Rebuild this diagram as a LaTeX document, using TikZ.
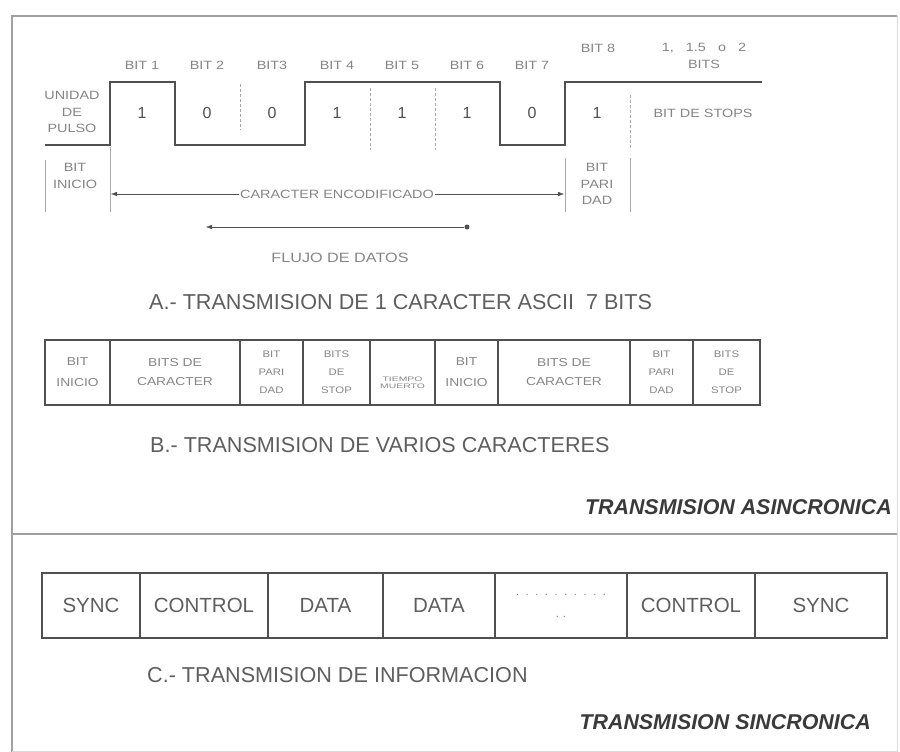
\documentclass[tikz,border=0pt]{standalone}
\usepackage{fontspec}
\setmainfont{Liberation Sans}
\newfontfamily\widesans[FakeStretch=1.2]{Liberation Sans}
\usetikzlibrary{arrows.meta,positioning}
\definecolor{lineG}{HTML}{505050}
\definecolor{txtG}{HTML}{858585}
\definecolor{headG}{HTML}{5E5E5E}
\definecolor{titleG}{HTML}{3A3A3A}
\definecolor{frameG}{HTML}{A0A0A0}

\begin{document}
\begin{tikzpicture}[x=1pt,y=-1pt,
  lbl/.style={text=txtG,font=\widesans\fontsize{12}{16.5}\selectfont,align=center,inner sep=1pt},
  bitval/.style={text=lineG,font=\fontsize{16}{18}\selectfont,inner sep=1pt},
  hd/.style={text=headG,font=\fontsize{21.6}{24}\selectfont,inner sep=0pt,anchor=west},
  ttl/.style={text=titleG,font=\fontsize{21.4}{24}\bfseries\itshape\selectfont,inner sep=0pt,anchor=east},
  cellB/.style={draw=lineG,line width=1.1pt,text=txtG,font=\widesans\fontsize{11.5}{21}\selectfont,align=center,minimum height=65pt,inner sep=0pt,outer sep=0pt},
  narrow/.style={cellB,font=\widesans\fontsize{9.5}{18}\selectfont},
  cellC/.style={draw=lineG,line width=1.1pt,text=headG,font=\fontsize{20.5}{24}\selectfont,align=center,minimum height=65pt,inner sep=0pt,outer sep=0pt},
  guide/.style={draw=txtG!70,thin,densely dashed},
  boxline/.style={draw=txtG!70,thin},
  flow/.style={-{Latex[length=6pt,width=4.5pt]},lineG,thin}]
\useasboundingbox (0,0) rectangle (900,752);
% frame and separator
\draw[frameG,line width=1.4pt] (12,752) -- (12,16) -- (897,16);
\draw[frameG!40,line width=1pt] (897,16) -- (897,751) -- (12,751);
\draw[frameG,line width=1.4pt] (12,534) -- (897,534);

% A: one character
\node[lbl] (b1) at (142,65) {BIT 1};
\node[lbl] (b2) at (207,65) {BIT 2};
\node[lbl] (b3) at (272,65) {BIT3};
\node[lbl] (b4) at (337,65) {BIT 4};
\node[lbl] (b5) at (402,65) {BIT 5};
\node[lbl] (b6) at (467,65) {BIT 6};
\node[lbl] (b7) at (532,65) {BIT 7};
\node[lbl] (b8) at (598,48) {BIT 8};
\node[lbl] (nstop) at (704,56) {1,\ \ \ 1.5\ \ \ o\ \ \ 2\\BITS};
\node[lbl] (unit) at (72,112) {UNIDAD\\DE\\PULSO};
\node[lbl] (stops) at (703,113) {BIT DE STOPS};
\draw[lineG,line width=1.2pt] (45,145) -- (110,145) -- (110,82) -- (175,82) -- (175,145)
  -- (305,145) -- (305,82) -- (500,82) -- (500,145) -- (565,145) -- (565,82) -- (762,82);
\node[bitval] (v1) at (142,113) {1};
\node[bitval] (v2) at (207,113) {0};
\node[bitval] (v3) at (272,113) {0};
\node[bitval] (v4) at (337,113) {1};
\node[bitval] (v5) at (402,113) {1};
\node[bitval] (v6) at (467,113) {1};
\node[bitval] (v7) at (532,113) {0};
\node[bitval] (v8) at (597,113) {1};
\draw[guide] (240,84) -- (240,130);
\draw[guide] (370,88) -- (370,150);
\draw[guide] (435,88) -- (435,150);
\draw[guide] (630,95) -- (630,150);
\draw[boxline] (45,160) -- (45,212);
\draw[boxline] (110,147) -- (110,212);
\draw[boxline] (565,158) -- (565,212);
\draw[boxline] (630,158) -- (630,212);
\node[lbl] (start) at (75,176) {BIT\\INICIO};
\node[lbl] (parity) at (597,184) {BIT\\PARI\\DAD};
\node[lbl,fill=white] (enc) at (337,194) {CARACTER ENCODIFICADO};
\coordinate (encL) at (111,194);
\coordinate (encR) at (564,194);
\draw[flow] (enc.west) -- (encL);
\draw[flow] (enc.east) -- (encR);
\node[circle,fill=lineG,inner sep=0pt,minimum size=5pt] (fluR) at (467,227) {};
\coordinate (fluL) at (206,227);
\draw[flow] (fluR) -- (fluL);
\node[lbl,font=\widesans\fontsize{13.5}{16}\selectfont] (flujo) at (340,258) {FLUJO DE DATOS};
\node[hd] (hA) at (149,302) {A.- TRANSMISION DE 1 CARACTER ASCII\ \ 7 BITS};

% B: several characters
\node[cellB,minimum width=65pt] (c1) at (77.5,372.5) {BIT\\INICIO};
\node[cellB,minimum width=130pt,font=\widesans\fontsize{11.5}{19}\selectfont] (c2) at (175,372.5) {BITS DE\\CARACTER};
\node[narrow,minimum width=63pt] (c3) at (271.5,372.5) {BIT\\PARI\\DAD};
\node[narrow,minimum width=67pt] (c4) at (336.5,372.5) {BITS\\DE\\STOP};
\node[cellB,minimum width=65pt] (c5) at (402.5,372.5) {};
\node[lbl,font=\fontsize{6.5}{6.5}\selectfont] (dead) at (402.5,383) {\scalebox{1.6}[1]{TIEMPO}\\\scalebox{1.6}[1]{MUERTO}};
\node[cellB,minimum width=63pt] (c6) at (466.5,372.5) {BIT\\INICIO};
\node[cellB,minimum width=132pt,font=\widesans\fontsize{11.5}{19}\selectfont] (c7) at (564,372.5) {BITS DE\\CARACTER};
\node[narrow,minimum width=63pt] (c8) at (661.5,372.5) {BIT\\PARI\\DAD};
\node[narrow,minimum width=67pt] (c9) at (726.5,372.5) {BITS\\DE\\STOP};
\node[hd] (hB) at (150,445) {B.- TRANSMISION DE VARIOS CARACTERES};
\node[ttl] (async) at (892,507) {TRANSMISION ASINCRONICA};

% C: synchronous block
\node[cellC,minimum width=98pt] (s1) at (91,605.5) {SYNC};
\node[cellC,minimum width=128pt] (s2) at (204,605.5) {CONTROL};
\node[cellC,minimum width=115pt] (s3) at (325.5,605.5) {DATA};
\node[cellC,minimum width=112pt] (s4) at (439,605.5) {DATA};
\node[cellC,minimum width=132pt,text=txtG,font=\fontsize{11}{22}\selectfont] (s5) at (561,605.5)
  {.\hspace{6.6pt}.\hspace{6.6pt}.\hspace{6.6pt}.\hspace{6.6pt}.\hspace{6.6pt}.\hspace{6.6pt}.\hspace{6.6pt}.\hspace{6.6pt}.\hspace{6.6pt}.\\.\hspace{4pt}.};
\node[cellC,minimum width=128pt] (s6) at (691,605.5) {CONTROL};
\node[cellC,minimum width=132pt] (s7) at (821,605.5) {SYNC};
\node[hd] (hC) at (147,675) {C.- TRANSMISION DE INFORMACION};
\node[ttl] (sync) at (871,722) {TRANSMISION SINCRONICA};
\end{tikzpicture}
\end{document}
